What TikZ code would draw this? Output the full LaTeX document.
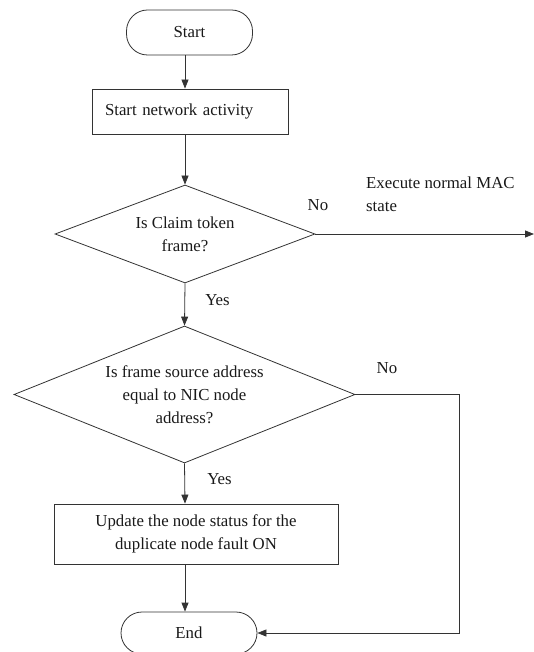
\documentclass[tikz,border=0pt]{standalone}
\usepackage{fontspec}
\setmainfont{Liberation Serif}
\usetikzlibrary{shapes.geometric,arrows.meta}
\begin{document}
\begin{tikzpicture}[x=1pt,y=-1pt,
  every node/.style={font=\fontsize{16.8}{23}\selectfont, text=black!90},
  line/.style={draw=black!80, line width=0.8pt},
  flow/.style={line, -{Triangle[length=9pt,width=7pt]}},
  terminal/.style={line, rectangle, rounded corners=21pt, inner sep=0pt},
  process/.style={line, rectangle, inner sep=0pt},
  decision/.style={line, diamond, inner sep=0pt, align=center},
  lbl/.style={inner sep=0pt}]
\useasboundingbox (0,0) rectangle (534,652);

% flowchart axis
\coordinate (ax) at (185,0);

\node[terminal, minimum width=126pt, minimum height=45pt] (start) at (189.5,32.5) {Start};
\node[process, minimum width=196pt, minimum height=45pt, text width=170pt, align=left, inner xsep=13pt] (act) at (190,111.5) {Start network activity};
\node[decision, aspect=2.65, minimum width=260pt, minimum height=98pt] (d1) at (185,234) {Is Claim token\\frame?};
\node[decision, aspect=2.49, minimum width=341pt, minimum height=137pt] (d2) at (184.5,394.5) {Is frame source address\\equal to NIC node\\address?};
\node[process, minimum width=284pt, minimum height=60pt, align=center] (upd) at (196,534) {Update the node status for the\\duplicate node fault ON};
\node[terminal, minimum width=136pt, minimum height=42pt] (end) at (189,633) {End};

\coordinate (mac) at (534,234);
\coordinate (turn) at (459,394.5);

\draw[flow] (start.south -| ax) -- (act.north -| ax);
\draw[flow] (act.south -| ax) -- (d1.north);
\draw[flow] (d1.south) -- (d2.north);
\draw[flow] (d2.south) -- (upd.north -| ax);
\draw[flow] (upd.south -| ax) -- (end.north -| ax);
\draw[flow] (d1.east) -- (mac);
\draw[flow] (d2.east) -- (turn) |- (end.east);

\node[lbl] (no1) at (318,205) {No};
\node[lbl, anchor=west, align=left] (exec) at (366,194.5) {Execute normal MAC\\state};
\node[lbl] (yes1) at (217.5,300) {Yes};
\node[lbl] (no2) at (387,368) {No};
\node[lbl] (yes2) at (219.5,479) {Yes};
\end{tikzpicture}
\end{document}
